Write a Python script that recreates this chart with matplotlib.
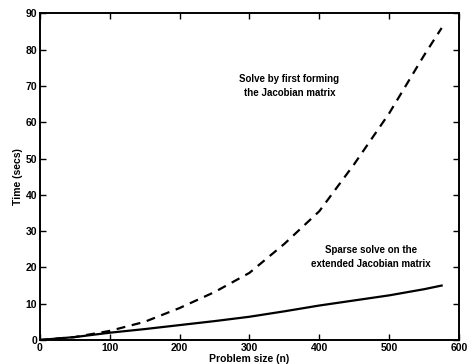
import matplotlib
matplotlib.use("Agg")
from matplotlib import pyplot as plt

# problem sizes (n) and timings
n_vals = [0, 50, 100, 150, 200, 250, 300, 350, 400, 450, 500, 550, 575]
t_jacobian = [0, 0.8, 2.5, 5.0, 8.8, 13.2, 18.5, 26.5, 35.5, 48.5, 62.5, 78.5, 86.0]
t_sparse = [0, 0.8, 2.0, 3.0, 4.1, 5.2, 6.4, 7.9, 9.5, 10.9, 12.3, 14.0, 15.0]

label_jacobian = "Solve by first forming\nthe Jacobian matrix"
label_sparse = "Sparse solve on the\nextended Jacobian matrix"

plt.rcParams["font.family"] = ["Liberation Sans", "DejaVu Sans"]
plt.rcParams["font.weight"] = "bold"

fig = plt.figure(figsize=(4.68, 3.64), dpi=100)
ax = fig.add_axes([0.085, 0.066, 0.896, 0.897])

ax.plot(n_vals, t_jacobian, color="black", lw=1.6, linestyle=(0, (4, 3)))
ax.plot(n_vals, t_sparse, color="black", lw=1.6)

ax.text(357, 70, label_jacobian, ha="center", va="center", fontsize=7, fontweight="bold", linespacing=1.5)
ax.text(474, 23, label_sparse, ha="center", va="center", fontsize=7, fontweight="bold", linespacing=1.5)

ax.set_xlim(0, 600)
ax.set_ylim(0, 90)
ax.set_xticks(range(0, 601, 100))
ax.set_yticks(range(0, 91, 10))
ax.tick_params(direction="in", top=True, right=True, length=4, width=1, labelsize=7.5, pad=2)
for lab in ax.get_xticklabels() + ax.get_yticklabels():
    lab.set_fontweight("bold")
for sp in ax.spines.values():
    sp.set_linewidth(1.4)

ax.set_xlabel("Problem size (n)", fontsize=7.5, fontweight="bold", labelpad=1)
ax.set_ylabel("Time (secs)", fontsize=7.5, fontweight="bold", labelpad=2)

fig.savefig("out.png", dpi=100)
